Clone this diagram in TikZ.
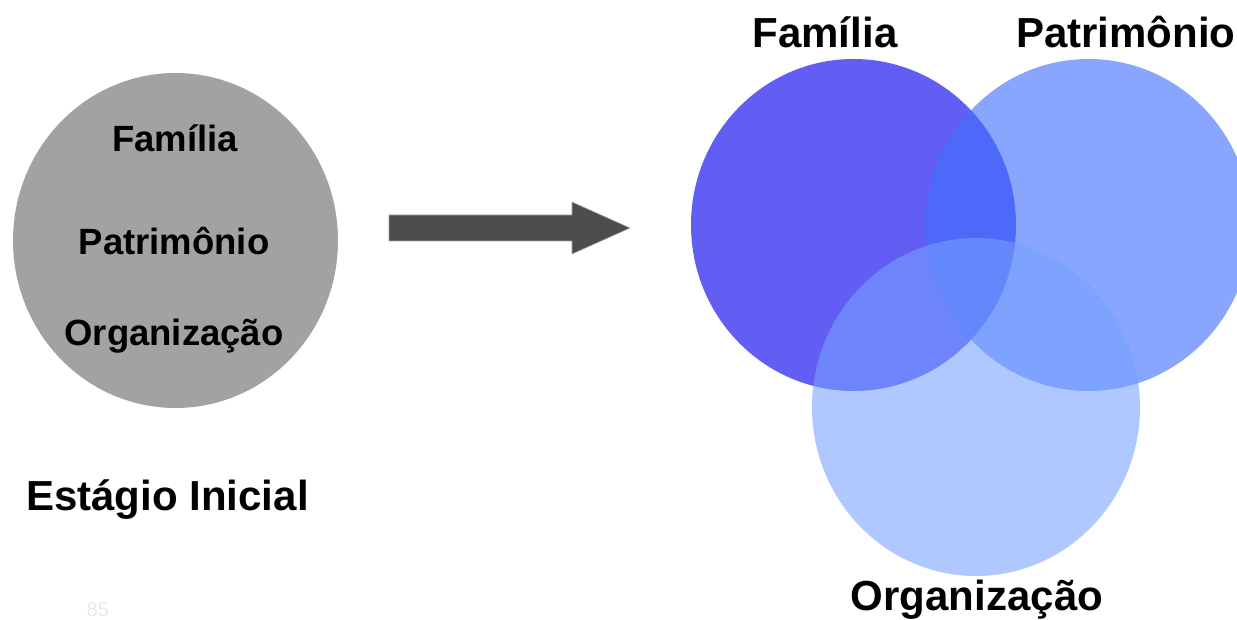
\documentclass[tikz,border=0pt]{standalone}
\usepackage{fontspec}
\setmainfont{Liberation Sans}

\definecolor{grayball}{RGB}{162,162,162}
\definecolor{arrowgray}{RGB}{77,77,77}
\definecolor{familia}{RGB}{98,94,244}
\definecolor{patrimonio}{RGB}{64,112,255}
\definecolor{organizacao}{RGB}{117,160,255}

\begin{document}
\begin{tikzpicture}[x=1pt, y=-1pt,
	biglabel/.style={font=\fontsize{42}{50}\selectfont\bfseries, inner sep=0pt, anchor=base},
	ballabel/.style={font=\fontsize{36.5}{44}\selectfont\bfseries, inner sep=0pt, anchor=base}]
	\useasboundingbox (0,0) rectangle (1237,620);

	% Estagio inicial
	\fill [grayball] (175.5,240.5) ellipse [x radius=162.5, y radius=167.5];
	\node [ballabel] (famA) at (175,152) {Família};
	\node [ballabel] (patA) at (174,255) {Patrimônio};
	\node [ballabel] (orgA) at (174,345) {Organização};
	\node [biglabel] (inicial) at (167.5,510) {Estágio Inicial};
	\node [inner sep=0pt, anchor=base, gray!18, font=\fontsize{20}{24}\selectfont] (pg) at (98,616) {85};

	% Seta
	\fill [arrowgray, draw=gray!70, line width=0.6pt] (389,215) -- (572,215) -- (572,202) -- (630,228) -- (572,254) -- (572,241) -- (389,241) -- cycle;

	% Familia
	\fill [familia] (853.5,225) ellipse [x radius=162.5, y radius=166];
	% Patrimonio
	\fill [patrimonio, fill opacity=0.62] (1088.5,225) ellipse [x radius=162.5, y radius=166];
	% Organizacao
	\fill [organizacao, fill opacity=0.58] (976,407) ellipse [x radius=164, y radius=169];

	\node [biglabel] (famB) at (825,48) {Família};
	\node [biglabel, anchor=base west] (patB) at (1016,48) {Patrimônio};
	\node [biglabel] (orgB) at (977,610) {Organização};
\end{tikzpicture}
\end{document}
